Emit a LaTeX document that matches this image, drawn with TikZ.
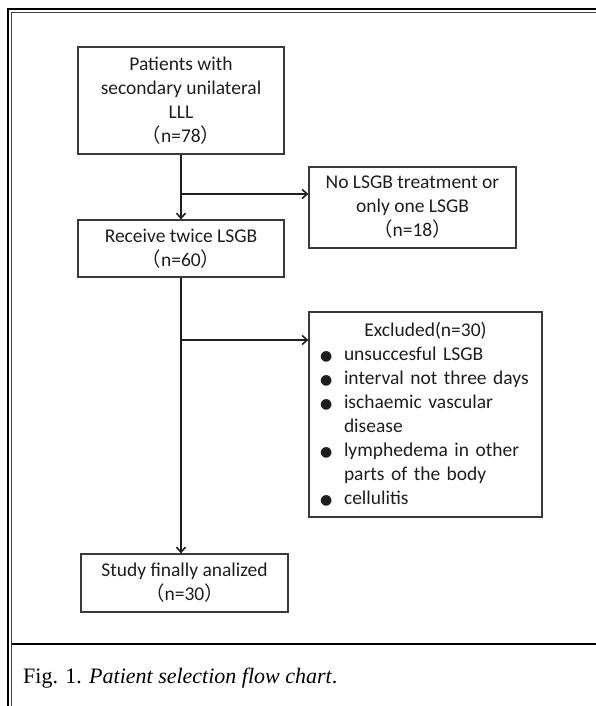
\documentclass[tikz,border=0pt]{standalone}
\usepackage{fontspec}
\setmainfont{Carlito}
\newfontfamily\capfont{Liberation Serif}
\newfontfamily\cjk{Noto Sans CJK SC}
\newfontfamily\bulfont{DejaVu Sans}
\usetikzlibrary{arrows.meta}
\newcommand{\lp}{{\cjk （}}
\newcommand{\rp}{{\cjk ）}}
\newcommand{\bitem}[1]{\noindent\hangindent=29pt\hangafter=1\makebox[29pt][l]{\hspace*{5pt}\bulfont\fontsize{14}{24}\selectfont ●}#1\par}
\definecolor{ink}{HTML}{1E1E1E}
\definecolor{edge}{HTML}{3A3A3A}
\tikzset{
  x=1pt,y=-1pt,
  box/.style={draw=edge, line width=1.3pt, rectangle, inner sep=0pt, align=center,
    text=ink, font=\fontsize{19.5}{24}\selectfont},
  conn/.style={draw=ink, line width=1.8pt},
  arr/.style={conn, -{Straight Barb[length=5pt,width=9pt,line width=1.6pt]}}
}
\begin{document}
\begin{tikzpicture}
\useasboundingbox (0,0) rectangle (596,706);
% frame
\draw[line width=2.4pt, black] (8,706) -- (8,9) -- (596,9);
\draw[line width=1pt, black!75] (11.8,706) -- (11.8,12.6) -- (596,12.6);
\draw[line width=1.4pt, black] (11.8,644) -- (596,644);
% boxes
\node[box, minimum width=206pt, minimum height=107pt] (top) at (181,100.5)
  {Patients with\\secondary unilateral\\LLL\\\lp n=78\rp};
\node[box, minimum width=206pt, minimum height=57pt] (recv) at (181,248.5)
  {Receive twice LSGB\\\lp n=60\rp};
\node[box, minimum width=207pt, minimum height=81pt] (nol) at (412.5,207.5)
  {No LSGB treatment or\\only one LSGB\\\lp n=18\rp};
\node[box, minimum width=233pt, minimum height=205pt, text width=221pt, align=left] (exc) at (425.5,414.5)
  {\centering Excluded(n=30)\par\raggedright
   \bitem{unsuccesful LSGB}
   \bitem{interval not three days}
   \bitem{ischaemic vascular\hfil\break disease}
   \bitem{lymphedema in other\hfil\break parts of the body}
   \bitem{cellulitis}};
\node[box, minimum width=207pt, minimum height=58pt] (study) at (184.5,583)
  {Study finally analized\\\lp n=30\rp};
% connectors
\coordinate (b1) at (181,194);
\coordinate (b2) at (182,340);
\draw[arr] (top.south) -- (recv.north);
\draw[arr] (b1) -- (b1 -| nol.west);
\draw[arr] (recv.south) -- (recv.south |- study.north);
\draw[arr] (b2) -- (b2 -| exc.west);
% caption
\node[anchor=base west, inner sep=0pt, font=\capfont\fontsize{22}{24}\selectfont, text=black] (cap) at (23,683)
  {Fig. 1. \textit{Patient selection flow chart}.};
\end{tikzpicture}
\end{document}
